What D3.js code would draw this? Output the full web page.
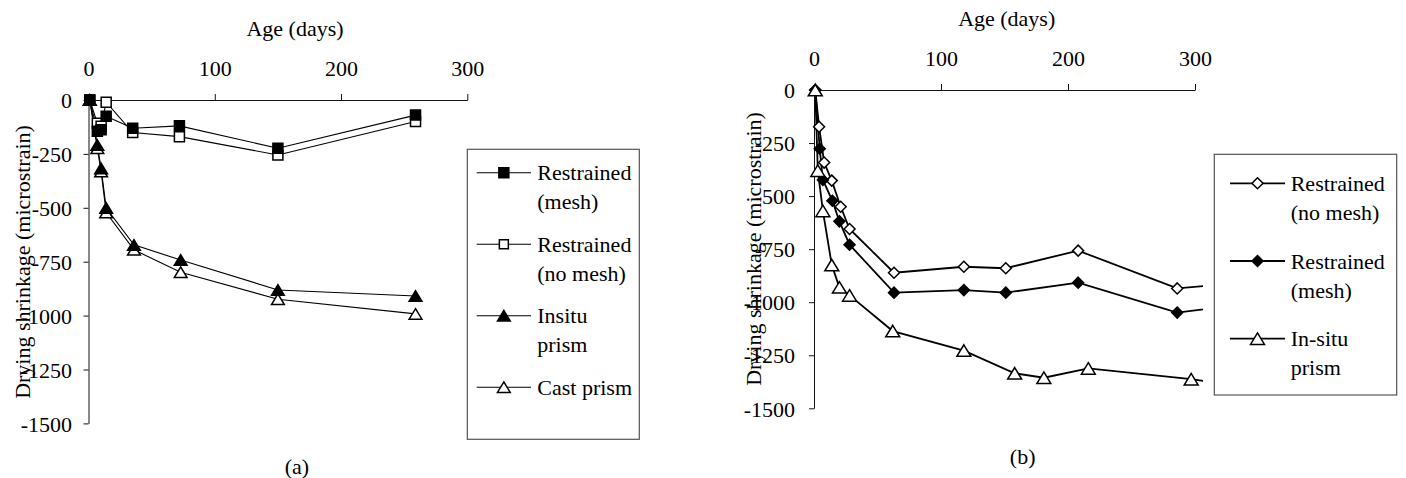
<!DOCTYPE html>
<html><head><meta charset="utf-8">
<script src="https://cdn.jsdelivr.net/npm/d3@7"></script>
<style>
body{margin:0;background:#fff}
svg{display:block}
text{font-family:"Liberation Serif","Times New Roman",serif;fill:#000}
</style>
</head><body>
<svg id="fig" width="1406" height="478"></svg>
<script>
// Shared axis ticks
const ageTicks = [0, 100, 200, 300];
const strainTicks = [0, -250, -500, -750, -1000, -1250, -1500];

// Panel (a): age in days, drying shrinkage in microstrain
const aMeshDays = [1, 7, 10, 14, 35, 72, 150, 259];
const aMeshStrain = [0, -145, -138, -75, -131, -120, -224, -70];
const aNoMeshDays = [1, 7, 10, 14, 35, 72, 150, 259];
const aNoMeshStrain = [0, -108, -122, -10, -151, -170, -255, -100];
const aInsituDays = [1, 7, 10, 14, 36, 73, 150, 259];
const aInsituStrain = [0, -209, -317, -501, -672, -742, -881, -909];
const aCastDays = [1, 7, 10, 14, 36, 73, 150, 259];
const aCastStrain = [0, -224, -332, -522, -695, -799, -924, -992];

// Panel (b)
const bNoMeshDays = [1, 4, 8, 14, 21, 28, 63, 118, 151, 208, 286, 320];
const bNoMeshStrain = [0, -173, -342, -427, -550, -655, -861, -833, -840, -757, -935, -917];
const bMeshDays = [1, 4.5, 7, 14.5, 20, 28, 63, 118, 151, 208, 286, 320];
const bMeshStrain = [0, -277, -424, -522, -619, -729, -955, -943, -955, -908, -1049, -1024];
const bInsituDays = [1, 3, 7, 14, 20, 28, 62, 118, 158, 181, 216, 297, 320];
const bInsituStrain = [0, -380, -570, -825, -930, -968, -1136, -1228, -1335, -1356, -1312, -1363, -1382];

const zip = (xs, ys) => xs.map((x, i) => ({ day: x, strain: ys[i] }));

// Marker shapes, centred on their bounding box
function markerPath(shape, s) {
  const h = s / 2;
  if (shape === "square") return `M${-h},${-h}H${h}V${h}H${-h}Z`;
  if (shape === "diamond") return `M0,${-h}L${h},0L0,${h}L${-h},0Z`;
  if (shape === "triangle") { const w = s * 0.58, t = s * 0.48; return `M0,${-t}L${w},${t}L${-w},${t}Z`; }
  return "";
}

const svg = d3.select("#fig");

function drawPanel(cfg) {
  const g = svg.append("g");
  const x = d3.scaleLinear().domain([0, 300]).range(cfg.xRange);
  const y = d3.scaleLinear().domain([0, -1500]).range(cfg.yRange);

  // Top age axis
  const xa = g.append("g").attr("transform", `translate(0,${cfg.yRange[0]})`)
    .call(d3.axisTop(x).tickValues(ageTicks).tickSize(6).tickSizeOuter(0).tickFormat(d => String(d)));
  xa.selectAll("text").attr("y", -32).attr("dy", "0.35em").style("font-size", "22px")
    .style("font-family", '"Liberation Serif",serif').attr("fill", "#000");
  xa.selectAll("line,path").attr("stroke", "#111").attr("stroke-width", 1);

  // Left strain axis
  const ya = g.append("g").attr("transform", `translate(${cfg.xRange[0]},0)`)
    .call(d3.axisLeft(y).tickValues(strainTicks).tickSize(5).tickPadding(cfg.yPad).tickSizeOuter(0).tickFormat(d => String(d)));
  ya.selectAll("text").attr("dy", "0.35em").style("font-size", "22px")
    .style("font-family", '"Liberation Serif",serif').attr("fill", "#000");
  ya.selectAll("line,path").attr("stroke", "#111").attr("stroke-width", 1);

  // Titles
  g.append("text").attr("x", cfg.ageTitle[0]).attr("y", cfg.ageTitle[1]).attr("dy", "0.35em")
    .attr("text-anchor", "middle").style("font-size", "22px").text("Age (days)");
  g.append("text").attr("transform", `translate(${cfg.yTitle[0]},${cfg.yTitle[1]}) rotate(-90)`)
    .attr("dy", "0.35em").attr("text-anchor", "middle").style("font-size", "22px")
    .text("Drying shrinkage (microstrain)");
  g.append("text").attr("x", cfg.caption[0]).attr("y", cfg.caption[1]).attr("dy", "0.35em")
    .attr("text-anchor", "middle").style("font-size", "22px").text(cfg.captionText);

  // Series
  const plot = g.append("g");
  if (cfg.clipRight) {
    const id = "clip" + cfg.captionText.replace(/\W/g, "");
    svg.append("defs").append("clipPath").attr("id", id).append("rect")
      .attr("x", cfg.xRange[0] - 20).attr("y", 0)
      .attr("width", cfg.clipRight - cfg.xRange[0] + 20).attr("height", 478);
    plot.attr("clip-path", `url(#${id})`);
  }
  const line = d3.line().x(d => x(d.day)).y(d => y(d.strain));
  cfg.series.forEach(s => {
    plot.append("path").datum(s.data).attr("d", line)
      .attr("fill", "none").attr("stroke", "#000").attr("stroke-width", cfg.lineWidth);
  });
  cfg.series.forEach(s => {
    plot.selectAll(null).data(s.data).enter().append("path")
      .attr("transform", d => `translate(${x(d.day)},${y(d.strain)})`)
      .attr("d", markerPath(s.shape, s.size))
      .attr("fill", s.filled ? "#000" : "#fff")
      .attr("stroke", "#000").attr("stroke-width", 1.5);
  });

  // Legend
  const L = cfg.legend;
  const lg = g.append("g");
  lg.append("rect").attr("x", L.x).attr("y", L.y).attr("width", L.w).attr("height", L.h)
    .attr("fill", "#fff").attr("stroke", "#555").attr("stroke-width", 1.2);
  L.order.forEach((idx, i) => {
    const s = cfg.series[idx];
    const cy = L.firstY + i * L.step;
    lg.append("line").attr("x1", L.x + L.lineFrom).attr("x2", L.x + L.lineTo)
      .attr("y1", cy).attr("y2", cy).attr("stroke", "#000").attr("stroke-width", cfg.lineWidth);
    lg.append("path").attr("transform", `translate(${L.x + (L.lineFrom + L.lineTo) / 2},${cy})`)
      .attr("d", markerPath(s.shape, s.legendSize || s.size))
      .attr("fill", s.filled ? "#000" : "#fff").attr("stroke", "#000").attr("stroke-width", 1.5);
    s.label.forEach((t, j) => {
      lg.append("text").attr("x", L.x + L.textX).attr("y", cy + j * 29).attr("dy", "0.35em")
        .style("font-size", "22px").text(t);
    });
  });
}

drawPanel({
  xRange: [88.5, 467.3], yRange: [100, 423.4], yPad: 11.5,
  ageTitle: [295, 28], yTitle: [22, 262], caption: [297, 466], captionText: "(a)",
  lineWidth: 1.1,
  series: [
    { data: zip(aNoMeshDays, aNoMeshStrain), shape: "square", size: 10, filled: false, label: ["Restrained", "(no mesh)"], legendSize: 9 },
    { data: zip(aMeshDays, aMeshStrain), shape: "square", size: 10, filled: true, label: ["Restrained", "(mesh)"], legendSize: 10 },
    { data: zip(aCastDays, aCastStrain), shape: "triangle", size: 11, filled: false, label: ["Cast prism"] },
    { data: zip(aInsituDays, aInsituStrain), shape: "triangle", size: 11, filled: true, label: ["Insitu", "prism"] }
  ],
  legend: { x: 467.3, y: 149.3, w: 172, h: 290, firstY: 172.7, step: 71.5,
            lineFrom: 9.4, lineTo: 63.7, textX: 70, order: [1, 0, 3, 2] }
});

drawPanel({
  xRange: [814, 1195], yRange: [90, 408.3], yPad: 14,
  ageTitle: [1006.7, 18.3], yTitle: [753, 249], caption: [1022.7, 456.7], captionText: "(b)",
  lineWidth: 1.8, clipRight: 1203,
  series: [
    { data: zip(bNoMeshDays, bNoMeshStrain), shape: "diamond", size: 11, filled: false, label: ["Restrained", "(no mesh)"] },
    { data: zip(bMeshDays, bMeshStrain), shape: "diamond", size: 11, filled: true, label: ["Restrained", "(mesh)"] },
    { data: zip(bInsituDays, bInsituStrain), shape: "triangle", size: 12, filled: false, label: ["In-situ", "prism"] }
  ],
  legend: { x: 1214.3, y: 154.3, w: 182.4, h: 240.7, firstY: 183.3, step: 77.7,
            lineFrom: 15.7, lineTo: 70.7, textX: 76.4, order: [0, 1, 2] }
});
</script>
</body></html>
